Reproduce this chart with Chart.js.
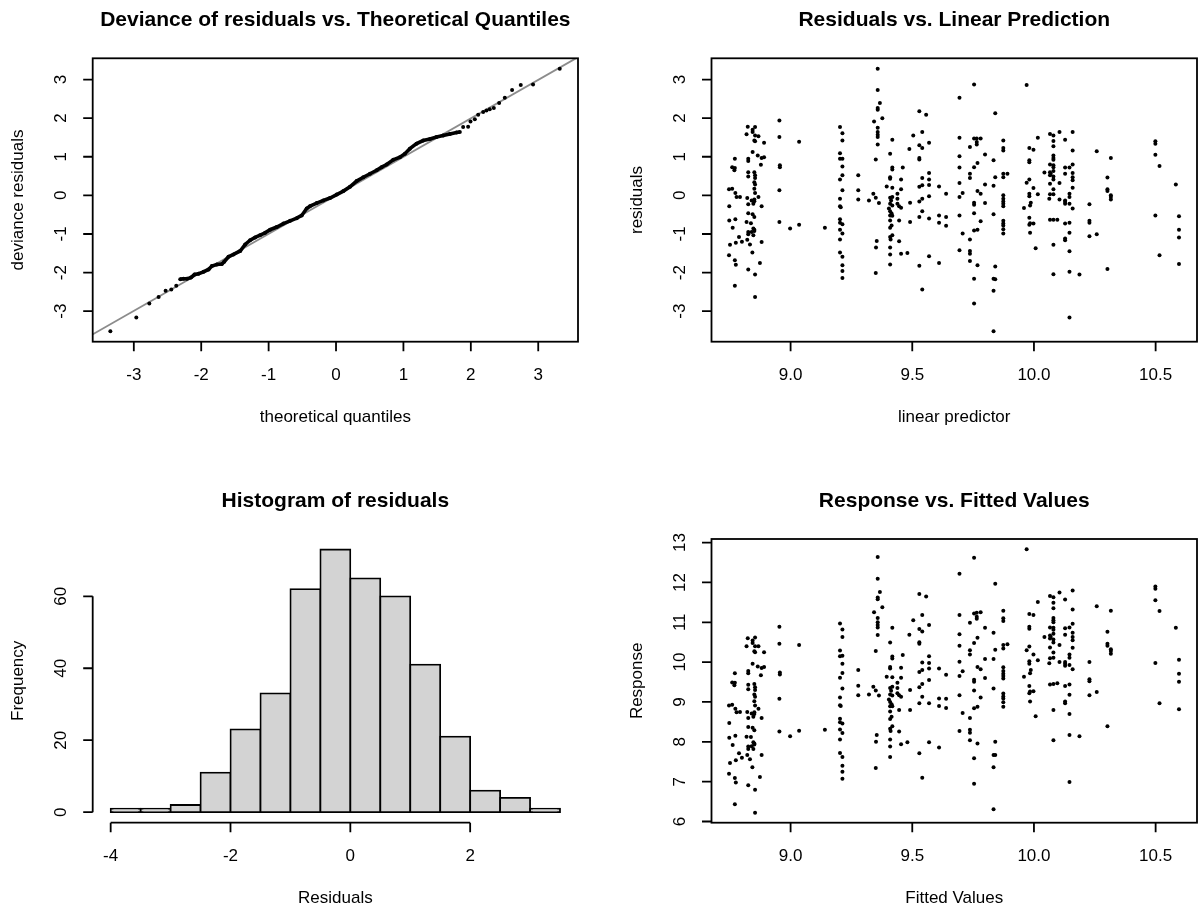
<!DOCTYPE html>
<html>
<head>
<meta charset="utf-8">
<script src="https://cdn.jsdelivr.net/npm/chart.js@4.4.0/dist/chart.umd.min.js"></script>
<style>
  html, body { margin: 0; padding: 0; background: #fff; }
  #wrap { position: relative; width: 1203px; height: 912px; overflow: hidden; }
  canvas { position: absolute; }
</style>
</head>
<body>
<div id="wrap">
  <canvas id="qq" width="601" height="456" style="left:0;top:0"></canvas>
  <canvas id="rvl" width="602" height="456" style="left:601px;top:0"></canvas>
  <canvas id="hist" width="601" height="456" style="left:0;top:456px"></canvas>
  <canvas id="rvf" width="602" height="456" style="left:601px;top:456px"></canvas>
</div>
<script>
// ---- data ----

// QQ plot: theoretical quantile, deviance residual
var qqTheoretical = [-3.348,-2.963,-2.770,-2.632,-2.528,-2.444,-2.370,-2.311,-2.262,-2.212,-2.153,-2.099,-2.040,
  -1.965,-1.891,-1.842,-1.768,-1.694,-1.659,-1.595,-1.521,-1.422,-1.348,-1.274,-1.200,-1.126,-1.052,-0.978,-0.879,
  -0.780,-0.681,-0.583,-0.509,-0.435,-0.385,-0.286,-0.188,-0.089,0.010,0.109,0.207,0.306,0.405,0.504,0.602,0.677,
  0.751,0.849,0.948,1.022,1.096,1.195,1.294,1.393,1.491,1.590,1.689,1.788,1.837,1.886,1.960,1.995,2.059,2.109,
  2.183,2.232,2.281,2.341,2.420,2.504,2.612,2.741,2.923,3.319];
var qqDeviance = [-3.52,-3.16,-2.80,-2.63,-2.47,-2.44,-2.34,-2.17,-2.16,-2.16,-2.13,-2.05,-2.03,
  -1.98,-1.92,-1.83,-1.79,-1.78,-1.72,-1.59,-1.53,-1.44,-1.27,-1.16,-1.09,-1.03,-0.97,-0.89,-0.82,
  -0.73,-0.66,-0.59,-0.52,-0.34,-0.28,-0.20,-0.13,-0.07,0.02,0.11,0.22,0.37,0.47,0.56,0.65,0.73,
  0.80,0.92,0.99,1.08,1.21,1.34,1.42,1.46,1.51,1.55,1.59,1.63,1.64,1.77,1.78,1.91,1.97,2.09,
  2.16,2.20,2.23,2.26,2.39,2.53,2.73,2.86,2.87,3.28];
var qqDenseFrom = 7, qqDenseTo = 59;   // where the points merge into a solid band
var refLineX = [-3.8, 3.8];
var refLineY = [-3.79, 3.79];

// histogram of residuals
var histBreaks = [-4,-3.5,-3,-2.5,-2,-1.5,-1,-0.5,0,0.5,1,1.5,2,2.5,3,3.5];
var histCounts = [1,1,2,11,23,33,62,73,65,60,41,21,6,4,1];

// [linear predictor, residual] by column of fitted values
var residualPoints = [
  [8.771,0.95],[8.760,0.73],[8.771,0.71],[8.769,0.65],[8.747,0.16],[8.760,0.17],[8.773,0.06],[8.778,-0.04],
  [8.792,-0.04],[8.748,-0.28],[8.748,-0.65],[8.773,-0.62],[8.762,-0.84],[8.788,-1.08],[8.751,-1.28],[8.775,-1.23],
  [8.800,-1.20],[8.747,-1.55],[8.771,-1.68],[8.775,-1.80],[8.771,-2.34],
  [8.824,1.78],[8.844,1.70],[8.854,1.77],[8.819,1.58],[8.844,1.64],[8.854,1.55],[8.868,1.53],[8.851,1.42],
  [8.854,1.40],[8.891,1.36],[8.844,1.12],[8.826,0.95],[8.826,0.89],[8.865,1.03],[8.881,0.97],[8.891,0.99],
  [8.878,0.79],[8.851,0.60],[8.826,0.60],[8.854,0.52],[8.826,0.49],[8.854,0.45],[8.851,0.34],[8.854,0.28],
  [8.851,0.17],[8.854,0.06],[8.822,-0.07],[8.840,-0.13],[8.851,-0.15],[8.868,-0.04],[8.826,-0.23],[8.847,-0.22],
  [8.851,-0.11],[8.881,-0.28],[8.826,-0.46],[8.844,-0.49],[8.851,-0.56],[8.819,-0.69],[8.837,-0.72],[8.847,-0.86],
  [8.851,-0.89],[8.826,-0.95],[8.840,-0.95],[8.851,-0.92],[8.826,-1.01],[8.847,-1.03],[8.822,-1.15],[8.833,-1.27],
  [8.881,-1.21],[8.843,-1.48],[8.874,-1.75],[8.826,-1.92],[8.854,-2.05],[8.854,-2.63],
  [8.954,1.94],[8.954,1.51],[8.956,0.78],[8.956,0.73],[8.954,0.13],[8.954,-0.69],[8.998,-0.86],[9.035,1.39],
  [9.035,-0.76],[9.141,-0.84],
  [9.203,1.77],[9.213,1.61],[9.213,1.42],[9.203,1.09],[9.203,0.95],[9.213,0.95],[9.213,0.75],[9.213,0.52],
  [9.203,0.41],[9.213,0.13],[9.203,-0.09],[9.203,-0.28],[9.206,-0.31],[9.203,-0.62],[9.203,-0.71],[9.213,-0.75],
  [9.203,-0.89],[9.213,-0.99],[9.203,-1.14],[9.203,-1.48],[9.213,-1.59],[9.213,-1.81],[9.213,-1.96],[9.213,-2.14],
  [9.278,0.52],[9.278,0.13],[9.278,-0.11],[9.322,-0.13],
  [9.358,3.28],[9.358,2.73],[9.367,2.39],[9.358,2.26],[9.358,2.22],[9.377,2.00],[9.343,1.91],[9.358,1.75],
  [9.358,1.64],[9.358,1.57],[9.358,1.51],[9.358,1.32],[9.350,0.93],[9.340,0.04],[9.350,-0.06],[9.363,-0.20],
  [9.354,-1.18],[9.351,-1.35],[9.350,-2.01],
  [9.418,1.44],[9.409,1.08],[9.418,0.72],[9.418,0.67],[9.409,0.47],[9.409,0.43],[9.395,0.23],[9.418,0.20],
  [9.409,-0.06],[9.418,-0.04],[9.413,-0.13],[9.409,-0.22],[9.418,-0.26],[9.404,-0.34],[9.409,-0.41],[9.415,-0.47],
  [9.409,-0.52],[9.418,-0.53],[9.409,-0.65],[9.415,-0.78],[9.409,-0.84],[9.418,-1.03],[9.409,-1.08],[9.411,-1.14],
  [9.409,-1.35],[9.409,-1.53],[9.409,-1.79],
  [9.461,0.72],[9.454,0.41],[9.454,0.16],[9.439,0.04],[9.439,-0.09],[9.439,-0.22],[9.446,-0.28],[9.454,-0.32],
  [9.446,-0.65],[9.446,-1.19],[9.454,-1.51],[9.480,-1.49],[9.491,-0.19],[9.491,-0.69],[9.488,1.20],[9.504,1.55],
  [9.529,2.18],[9.557,2.09],[9.541,1.64],[9.529,1.30],[9.541,1.23],[9.569,1.36],[9.529,0.97],[9.529,0.93],
  [9.569,0.58],[9.541,0.45],[9.569,0.41],[9.541,0.26],[9.529,0.22],[9.569,0.27],[9.541,-0.09],[9.529,-0.16],
  [9.569,-0.02],[9.541,-0.41],[9.529,-0.56],[9.569,-0.60],[9.529,-1.82],[9.569,-1.58],[9.541,-2.44],
  [9.610,0.23],[9.639,0.04],[9.610,-0.52],[9.639,-0.56],[9.610,-0.71],[9.639,-0.79],[9.610,-1.75],
  [9.694,2.53],[9.694,1.49],[9.694,1.01],[9.694,0.72],[9.694,0.32],[9.707,0.06],[9.694,-0.04],[9.694,-0.52],
  [9.707,-0.99],[9.694,-1.42],
  [9.754,2.87],[9.754,1.47],[9.765,1.47],[9.781,1.47],[9.765,1.38],[9.765,1.32],[9.737,1.25],[9.799,1.06],
  [9.768,0.84],[9.754,0.73],[9.737,0.56],[9.737,0.45],[9.768,0.11],[9.781,0.04],[9.799,0.28],[9.754,-0.19],
  [9.754,-0.24],[9.799,-0.20],[9.754,-0.46],[9.781,-0.67],[9.754,-0.91],[9.768,-0.89],[9.737,-1.14],[9.737,-1.44],
  [9.737,-1.51],[9.737,-1.70],[9.768,-1.81],[9.754,-2.16],[9.754,-2.80],
  [9.841,2.13],[9.834,0.91],[9.841,0.47],[9.834,0.25],[9.834,-0.49],[9.841,-1.84],[9.834,-2.16],[9.841,-2.17],
  [9.834,-2.47],[9.834,-3.52],
  [9.874,1.42],[9.874,1.23],[9.874,1.16],[9.874,0.56],[9.891,0.56],[9.874,0.47],[9.874,0.00],[9.874,-0.09],
  [9.874,-0.16],[9.874,-0.22],[9.874,-0.28],[9.874,-0.66],[9.874,-0.73],[9.874,-0.78],[9.874,-0.88],[9.874,-0.99],
  [9.970,2.86],[10.016,1.49],[9.981,1.23],[9.998,1.18],[9.981,0.91],[9.981,0.86],[9.981,0.41],[9.970,0.33],
  [9.998,0.19],[9.981,0.04],[9.981,-0.02],[10.016,0.03],[9.987,-0.19],[9.984,-0.26],[9.959,-0.33],[9.981,-0.58],
  [9.984,-0.72],[9.998,-0.73],[9.981,-0.76],[9.984,-0.97],[10.007,-1.37],
  [10.066,1.59],[10.080,1.55],[10.105,1.64],[10.080,1.41],[10.080,1.27],[10.080,1.03],[10.080,0.97],[10.080,0.92],
  [10.066,0.80],[10.080,0.78],[10.080,0.73],[10.043,0.59],[10.066,0.60],[10.069,0.56],[10.080,0.63],[10.066,0.52],
  [10.080,0.49],[10.080,0.41],[10.066,0.30],[10.105,0.32],[10.080,0.16],[10.066,0.03],[10.080,0.03],[10.063,-0.09],
  [10.105,-0.11],[10.066,-0.63],[10.080,-0.63],[10.096,-0.63],[10.080,-1.28],[10.080,-2.04],
  [10.159,1.64],[10.128,1.44],[10.159,1.16],[10.128,0.72],[10.146,0.72],[10.159,0.80],[10.128,0.56],[10.159,0.58],
  [10.159,0.47],[10.159,0.39],[10.159,0.20],[10.146,0.04],[10.146,-0.04],[10.128,-0.13],[10.128,-0.22],[10.146,-0.22],
  [10.128,-0.17],[10.159,-0.34],[10.128,-0.73],[10.146,-0.71],[10.146,-0.97],[10.128,-1.12],[10.128,-1.16],[10.146,-1.45],
  [10.146,-1.98],[10.187,-2.05],[10.146,-3.16],
  [10.258,1.14],[10.228,-0.23],[10.228,-0.66],[10.228,-0.71],[10.228,-1.06],[10.258,-1.01],
  [10.316,0.97],[10.302,0.46],[10.302,0.16],[10.302,0.11],[10.316,0.00],[10.316,-0.04],[10.316,-0.11],[10.302,-1.91],
  [10.499,1.40],[10.499,1.34],[10.499,1.05],[10.516,0.76],[10.499,-0.52],[10.516,-1.55],
  [10.583,0.28],[10.596,-0.54],[10.596,-0.89],[10.596,-1.09],[10.596,-1.78]
];

// axis ticks
var qqTicks = [-3, -2, -1, 0, 1, 2, 3];
var lpTicks = [9.0, 9.5, 10.0, 10.5];
var residTicks = [-3, -2, -1, 0, 1, 2, 3];
var respTicks = [6, 7, 8, 9, 10, 11, 12, 13];
var histXTicks = [-4, -2, 0, 2];
var histYTicks = [0, 20, 40, 60];

// ---- build ----
var qqPts = qqTheoretical.map(function (x, i) { return { x: x, y: qqDeviance[i] }; });
var qqBand = qqPts.slice(qqDenseFrom, qqDenseTo);
var refPts = refLineX.map(function (x, i) { return { x: x, y: refLineY[i] }; });
var histBars = histCounts.map(function (c, i) {
  return { x: (histBreaks[i] + histBreaks[i + 1]) / 2, y: c };
});
var residPts = residualPoints.map(function (p) { return { x: p[0], y: p[1] }; });
// identity link: response = fitted value + residual
var responsePts = residualPoints.map(function (p) { return { x: p[0], y: +(p[0] + p[1]).toFixed(2) }; });

var FONT = '"Liberation Sans", Arial, Helvetica, sans-serif';

// R style axes, box and titles drawn on the chart's own scales
var rAxes = {
  id: 'rAxes',
  afterDraw: function (chart, args, o) {
    var ctx = chart.ctx, a = chart.chartArea;
    var sx = chart.scales.x, sy = chart.scales.y;
    var tick = 9.5;
    var xp = o.xTicks.map(function (v) { return sx.getPixelForValue(v); });
    var yp = o.yTicks.map(function (v) { return sy.getPixelForValue(v); });
    ctx.save();
    ctx.strokeStyle = '#000';
    ctx.fillStyle = '#000';
    ctx.lineWidth = 1.8;
    if (o.box) ctx.strokeRect(a.left, a.top, a.right - a.left, a.bottom - a.top);
    ctx.beginPath();
    if (!o.box) {
      ctx.moveTo(xp[0], a.bottom); ctx.lineTo(xp[xp.length - 1], a.bottom);
      ctx.moveTo(a.left, yp[0]); ctx.lineTo(a.left, yp[yp.length - 1]);
    }
    xp.forEach(function (x) { ctx.moveTo(x, a.bottom); ctx.lineTo(x, a.bottom + tick); });
    yp.forEach(function (y) { ctx.moveTo(a.left, y); ctx.lineTo(a.left - tick, y); });
    ctx.stroke();

    ctx.font = '17px ' + FONT;
    ctx.textAlign = 'center';
    ctx.textBaseline = 'middle';
    xp.forEach(function (x, i) { ctx.fillText(o.xLabels[i], x, a.bottom + 34); });
    yp.forEach(function (y, i) {
      ctx.save();
      ctx.translate(a.left - 31, y);
      ctx.rotate(-Math.PI / 2);
      ctx.fillText(o.yLabels[i], 0, 0);
      ctx.restore();
    });
    var cx = (a.left + a.right) / 2, cy = (a.top + a.bottom) / 2;
    ctx.fillText(o.xTitle, cx, a.bottom + 76);
    ctx.save();
    ctx.translate(a.left - 74, cy);
    ctx.rotate(-Math.PI / 2);
    ctx.fillText(o.yTitle, 0, 0);
    ctx.restore();

    ctx.font = 'bold 21px ' + FONT;
    ctx.fillText(o.title, cx, a.top - 38);
    ctx.restore();
  }
};

function labels(arr, dec) {
  return arr.map(function (v) { return dec ? v.toFixed(dec) : String(v); });
}

function rOptions(xr, yr, pad, axes) {
  return {
    responsive: false,
    animation: false,
    events: [],
    layout: { padding: pad },
    plugins: { legend: { display: false }, tooltip: { enabled: false }, rAxes: axes },
    scales: {
      x: { type: 'linear', display: false, min: xr[0], max: xr[1], offset: false },
      y: { type: 'linear', display: false, min: yr[0], max: yr[1] }
    }
  };
}

function dots(data) {
  return { data: data, pointRadius: 2, pointBackgroundColor: '#000', pointBorderWidth: 0, showLine: false };
}

var padTopL = { left: 92.7, top: 58.3, right: 23, bottom: 114.3 };
var padTopR = { left: 110.5, top: 58.3, right: 6, bottom: 114.3 };
var padBotL = { left: 92.7, top: 83, right: 23, bottom: 89.3 };
var padBotR = { left: 110.5, top: 83, right: 6, bottom: 89.3 };

new Chart(document.getElementById('qq'), {
  type: 'scatter',
  data: {
    datasets: [
      dots(qqPts),
      { data: qqBand, showLine: true, borderColor: '#000', borderWidth: 3.6, pointRadius: 0 },
      { data: refPts, showLine: true, borderColor: '#8c8c8c', borderWidth: 1.8, pointRadius: 0 }
    ]
  },
  options: rOptions([-3.61, 3.59], [-3.79, 3.55], padTopL, {
    box: true, title: 'Deviance of residuals vs. Theoretical Quantiles',
    xTitle: 'theoretical quantiles', yTitle: 'deviance residuals',
    xTicks: qqTicks, xLabels: labels(qqTicks), yTicks: qqTicks, yLabels: labels(qqTicks)
  }),
  plugins: [rAxes]
});

new Chart(document.getElementById('rvl'), {
  type: 'scatter',
  data: { datasets: [dots(residPts)] },
  options: rOptions([8.675, 10.670], [-3.79, 3.55], padTopR, {
    box: true, title: 'Residuals vs. Linear Prediction',
    xTitle: 'linear predictor', yTitle: 'residuals',
    xTicks: lpTicks, xLabels: labels(lpTicks, 1), yTicks: residTicks, yLabels: labels(residTicks)
  }),
  plugins: [rAxes]
});

new Chart(document.getElementById('hist'), {
  type: 'bar',
  data: {
    datasets: [{
      data: histBars,
      backgroundColor: '#d3d3d3',
      borderColor: '#000',
      borderWidth: 1.8,
      borderSkipped: false,
      inflateAmount: 0.9,
      barPercentage: 1,
      categoryPercentage: 1
    }]
  },
  options: rOptions([-4.3, 3.8], [-2.92, 75.92], padBotL, {
    box: false, title: 'Histogram of residuals',
    xTitle: 'Residuals', yTitle: 'Frequency',
    xTicks: histXTicks, xLabels: labels(histXTicks), yTicks: histYTicks, yLabels: labels(histYTicks)
  }),
  plugins: [rAxes]
});

new Chart(document.getElementById('rvf'), {
  type: 'scatter',
  data: { datasets: [dots(responsePts)] },
  options: rOptions([8.675, 10.670], [5.97, 13.09], padBotR, {
    box: true, title: 'Response vs. Fitted Values',
    xTitle: 'Fitted Values', yTitle: 'Response',
    xTicks: lpTicks, xLabels: labels(lpTicks, 1), yTicks: respTicks, yLabels: labels(respTicks)
  }),
  plugins: [rAxes]
});
</script>
</body>
</html>
